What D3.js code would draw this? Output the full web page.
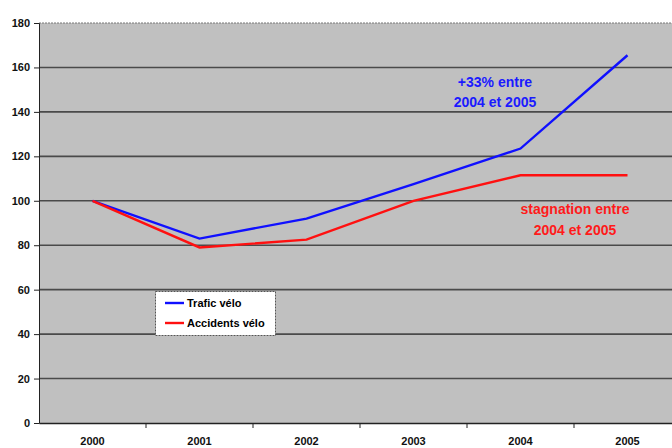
<!DOCTYPE html>
<html><head><meta charset="utf-8">
<script src="https://cdn.jsdelivr.net/npm/d3@7"></script>
<style>body{margin:0;background:#fff;}svg{display:block;font-family:"Liberation Sans",Arial,sans-serif;}</style>
</head><body><svg id="c" width="672" height="448"></svg>
<script>
const years = ["2000","2001","2002","2003","2004","2005"];
const traficVelo = [100, 83, 92, 107.5, 123.5, 165.5];
const accidentsVelo = [100, 79, 82.5, 100, 111.5, 111.5];
const yTicks = [0,20,40,60,80,100,120,140,160,180];
const seriesNames = ["Trafic vélo","Accidents vélo"];
const annotTrafic = ["+33% entre","2004 et 2005"];
const annotAccidents = ["stagnation entre","2004 et 2005"];

const svg = d3.select("#c");
const pLeft = 39, pTop = 23, pBottom = 423, pRight = 39 + 6*107;
const x = d3.scaleBand().domain(years).range([pLeft, pRight]);
const y = d3.scaleLinear().domain([0,180]).range([pBottom, pTop]);

svg.append("rect").attr("x",pLeft).attr("y",pTop).attr("width",pRight-pLeft).attr("height",pBottom-pTop).attr("fill","#c0c0c0");

// gridlines
svg.append("g").selectAll("line").data(yTicks.filter(d=>d>0)).join("line")
  .attr("x1",pLeft).attr("x2",pRight).attr("y1",d=>y(d)).attr("y2",d=>y(d))
  .attr("stroke",d=>d===180?"#777":"#4a4a4a").attr("stroke-width",d=>d===180?1:1.6)
  .attr("stroke-dasharray",d=>d===180?"2,1":null);

// y axis
const ya = svg.append("g").attr("transform",`translate(${pLeft},0)`)
  .call(d3.axisLeft(y).tickValues(yTicks).tickSize(5).tickPadding(4));
ya.select(".domain").attr("stroke","#222");
ya.selectAll(".tick line").attr("stroke","#222");
ya.selectAll("text").attr("font-size",11).attr("font-weight","bold").attr("fill","#111");

// x axis
const xa = svg.append("g").attr("transform",`translate(0,${pBottom})`)
  .call(d3.axisBottom(x).tickSize(0).tickPadding(14));
xa.select(".domain").attr("stroke","#222").attr("stroke-width",1.5);
xa.selectAll("text").attr("font-size",11).attr("font-weight","bold").attr("fill","#111");
svg.append("g").selectAll("line").data(years.slice(1)).join("line")
  .attr("x1",d=>x(d)).attr("x2",d=>x(d)).attr("y1",pBottom).attr("y2",pBottom+5)
  .attr("stroke","#222");

const line = d3.line().x((d,i)=>x(years[i])+x.bandwidth()/2).y(d=>y(d));
svg.append("path").datum(traficVelo).attr("d",line).attr("fill","none").attr("stroke","#1010ff").attr("stroke-width",2.4);
svg.append("path").datum(accidentsVelo).attr("d",line).attr("fill","none").attr("stroke","#ff1010").attr("stroke-width",2.4);

// legend
const lg = svg.append("g");
lg.append("rect").attr("x",155.5).attr("y",291.5).attr("width",120).attr("height",44)
  .attr("fill","#fff").attr("stroke","#555").attr("stroke-dasharray","2,1");
const colors = ["#1010ff","#ff1010"];
seriesNames.forEach((n,i)=>{
  const yy = 303 + i*20;
  lg.append("line").attr("x1",165).attr("x2",184).attr("y1",yy).attr("y2",yy).attr("stroke",colors[i]).attr("stroke-width",2.4);
  lg.append("text").attr("x",187).attr("y",yy+4).text(n).attr("font-size",11).attr("font-weight","bold").attr("fill","#000");
});

// annotations
svg.append("g").selectAll("text").data(annotTrafic).join("text")
  .attr("x",495).attr("y",(d,i)=>87+i*20).attr("text-anchor","middle")
  .attr("font-size",14).attr("font-weight","bold").attr("fill","#1a1aff").text(d=>d);
svg.append("g").selectAll("text").data(annotAccidents).join("text")
  .attr("x",575).attr("y",(d,i)=>214+i*21).attr("text-anchor","middle")
  .attr("font-size",14).attr("font-weight","bold").attr("fill","#ff1a1a").text(d=>d);
</script></body></html>
